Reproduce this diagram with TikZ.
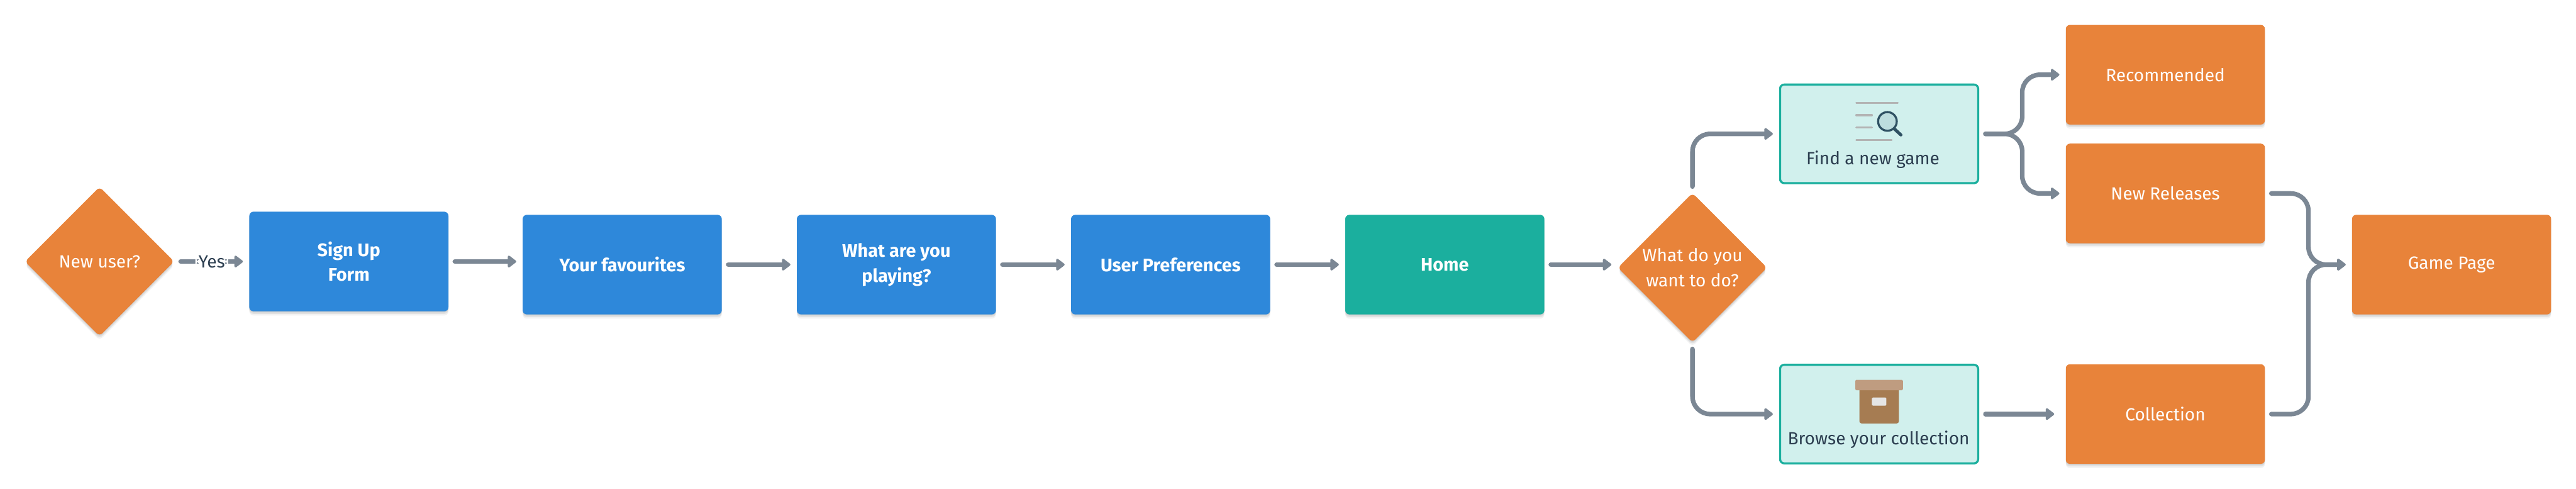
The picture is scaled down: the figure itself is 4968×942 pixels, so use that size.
\documentclass[tikz,border=0pt]{standalone}
\usepackage{fontspec}
\setmainfont{Fira Sans}
\usepackage{tikz}
\usetikzlibrary{shapes.geometric,arrows.meta,positioning,shadows}

\definecolor{flowblue}{HTML}{2E88DA}
\definecolor{floworange}{HTML}{E8833A}
\definecolor{flowteal}{HTML}{1BAF9E}
\definecolor{flowpale}{HTML}{D1F0ED}
\definecolor{flowgrey}{HTML}{7B8794}
\definecolor{flowink}{HTML}{2C3E50}
\definecolor{iconline}{HTML}{B3B3B3}
\definecolor{iconglass}{HTML}{BDDDDE}
\definecolor{iconrim}{HTML}{2F5163}
\definecolor{iconlid}{HTML}{BF9C80}
\definecolor{iconbody}{HTML}{A67C52}
\definecolor{iconlabel}{HTML}{E5E5E5}

\begin{document}
\begin{tikzpicture}[x=.5pt, y=-.5pt,
    softshadow/.style={drop shadow={shadow xshift=0pt, shadow yshift=-4pt, opacity=.05, fill=black},
        drop shadow={shadow xshift=0pt, shadow yshift=-2.5pt, opacity=.07, fill=black},
        drop shadow={shadow xshift=0pt, shadow yshift=-1pt, opacity=.08, fill=black}},
    card/.style={rectangle, rounded corners=4pt, minimum width=192pt, minimum height=96pt, inner sep=0pt,
        text=white, align=center, softshadow, font=\fontsize{17}{24}\selectfont},
    screen/.style={card, fill=flowblue, font=\fontsize{17.5}{24}\selectfont\bfseries},
    homecard/.style={screen, fill=flowteal},
    page/.style={card, fill=floworange},
    decision/.style={diamond, aspect=1, rounded corners=4pt, fill=floworange, minimum width=144pt, minimum height=144pt,
        inner sep=0pt, text=white, align=center, softshadow, font=\fontsize{17}{24}\selectfont},
    task/.style={rectangle, rounded corners=4pt, draw=flowteal, line width=2pt, fill=flowpale,
        minimum width=191pt, minimum height=95pt, inner sep=0pt},
    caption/.style={text=flowink, inner sep=0pt, font=\fontsize{17}{24}\selectfont},
    arrow/.style={-{Triangle[width=13pt, length=9pt, round]}, flowgrey, line width=4.4pt, line cap=round,
        rounded corners=17pt, shorten >=6pt, shorten <=6pt}]

    \useasboundingbox (0,0) rectangle (4968,942);

    \node[decision] (newuser) at (192,504) {New user?};
    \node[screen, right=72pt of newuser] (signup) {Sign Up\\Form};
    \node[screen] (favourites) at (1200,510) {Your favourites};
    \node[screen, right=72pt of favourites] (playing) {What are you\\playing?};
    \node[screen, right=72pt of playing] (prefs) {User Preferences};
    \node[homecard, right=72pt of prefs] (home) {Home};
    \node[decision] (todo) at (3264,516) {What do you\\want to do?};

    \node[task] (findgame) at (3624,258) {};
    \node[task] (browse) at (3624,798) {};
    \node[page] (recommended) at (4176,144) {Recommended};
    \node[page, below=18pt of recommended] (releases) {New Releases};
    \node[page] (collection) at (4176,798) {Collection};
    \node[page] (gamepage) at (4728,510) {Game Page};

    \node[caption] (findtext) at (3612,307) {Find a new game};
    \node[caption] (browsetext) at (3623,847) {Browse your collection};

    \coordinate (split) at (3900,258);
    \coordinate (merge) at (4452,510);

    \draw[arrow] (newuser) -- node[fill=white, text=flowink, inner sep=3pt, font=\fontsize{17}{24}\selectfont] (yes) {Yes} (signup);
    \draw[arrow] (signup) -- (signup -| favourites.west);
    \draw[arrow] (favourites) -- (playing);
    \draw[arrow] (playing) -- (prefs);
    \draw[arrow] (prefs) -- (home);
    \draw[arrow] (home) -- (home -| todo.west);
    \draw[arrow] (todo.north) |- (findgame.west);
    \draw[arrow] (todo.south) |- (browse.west);
    \draw[arrow] (findgame.east) -- (split) -- (split |- recommended) -- (recommended.west);
    \draw[arrow] (findgame.east) -- (split) -- (split |- releases) -- (releases.west);
    \draw[arrow, shorten >=11pt] (browse) -- (collection);
    \draw[arrow] (releases.east) -- (merge |- releases) -- (merge) -- (gamepage.west);
    \draw[arrow] (collection.east) -- (merge |- collection) -- (merge) -- (gamepage.west);

    % magnifier icon
    \draw[iconline, line width=2pt, line cap=round] (3580,198) -- (3660,198) (3580,222) -- (3610,222)
        (3580,246) -- (3610,246) (3580,270) -- (3648,270);
    \draw[iconrim, line width=3pt, line cap=round] (3653,248) -- (3666,260);
    \draw[iconrim, fill=iconglass, line width=2pt] (3640,234) circle (18);

    % archive box icon
    \fill[iconbody, rounded corners=2pt] (3586,745) rectangle (3662,816);
    \fill[iconlid, rounded corners=1pt] (3578,732) rectangle (3670,752);
    \fill[iconlabel, rounded corners=1pt] (3610,766) rectangle (3638,782);
\end{tikzpicture}
\end{document}
